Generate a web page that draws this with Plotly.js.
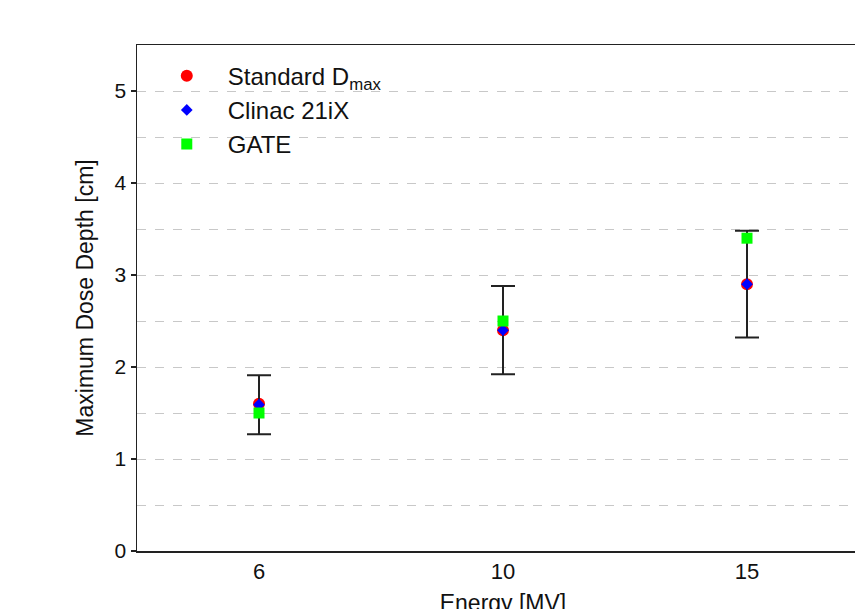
<!DOCTYPE html>
<html>
<head>
<meta charset="utf-8">
<script src="https://cdn.plot.ly/plotly-3.0.1.min.js"></script>
<style>
html,body{margin:0;padding:0;overflow:hidden;background:#fff;width:855px;height:609px;}
#chart{width:900px;height:640px;}
</style>
</head>
<body>
<div id="chart"></div>
<script>
const energies = ["6", "10", "15"];
const standardDmax = [1.6, 2.4, 2.9];
const clinac21iX = [1.59, 2.4, 2.9];
const clinacError = [0.32, 0.48, 0.58];
const gate = [1.5, 2.5, 3.4];
const yTickVals = [0, 1, 2, 3, 4, 5];

const font = "Arial, 'Liberation Sans', sans-serif";

const traces = [
  {
    x: energies, y: standardDmax, type: "scatter", mode: "markers",
    name: "Standard D<sub>max</sub>",
    marker: {symbol: "circle", size: 12, color: "#ff0000"}
  },
  {
    x: energies, y: clinac21iX, type: "scatter", mode: "markers",
    name: "Clinac 21iX",
    marker: {symbol: "diamond", size: 9, color: "#0000ff"},
    error_y: {type: "data", array: clinacError, visible: true, color: "#222", thickness: 2, width: 12}
  },
  {
    x: energies, y: gate, type: "scatter", mode: "markers",
    name: "GATE",
    marker: {symbol: "square", size: 11, color: "#00ff00"}
  }
];

const layout = {
  width: 900, height: 640,
  margin: {l: 137, r: 31, t: 45, b: 89},
  paper_bgcolor: "#fff", plot_bgcolor: "#fff",
  font: {family: font, color: "#111"},
  showlegend: true,
  legend: {
    x: 0.012, y: 0.983, xanchor: "left", yanchor: "top",
    font: {size: 24, family: font, color: "#111"},
    bgcolor: "rgba(0,0,0,0)", tracegroupgap: 0, itemwidth: 72
  },
  xaxis: {
    type: "category", range: [-0.5, 2.5],
    showline: true, linecolor: "#222", linewidth: 1.5, mirror: true,
    showgrid: false, ticks: "", zeroline: false,
    tickfont: {size: 22, family: font, color: "#111"},
    title: {text: "Energy [MV]", font: {size: 23, family: font, color: "#111"}, standoff: 12}
  },
  yaxis: {
    range: [0, 5.5], tickvals: yTickVals,
    showline: true, linecolor: "#222", linewidth: 1.5, mirror: true,
    ticks: "outside", ticklen: 5, tickcolor: "#222", tickwidth: 1.5,
    showgrid: true, gridcolor: "#c8c8c8", griddash: "dash", gridwidth: 1,
    zeroline: false,
    minor: {dtick: 0.5, tick0: 0, showgrid: true, gridcolor: "#c8c8c8", griddash: "dash", gridwidth: 1, ticks: ""},
    tickfont: {size: 21, family: font, color: "#111"},
    title: {text: "Maximum Dose Depth [cm]", font: {size: 23, family: font, color: "#111"}, standoff: 14}
  }
};

Plotly.newPlot("chart", traces, layout, {displayModeBar: false, staticPlot: true});
</script>
</body>
</html>
